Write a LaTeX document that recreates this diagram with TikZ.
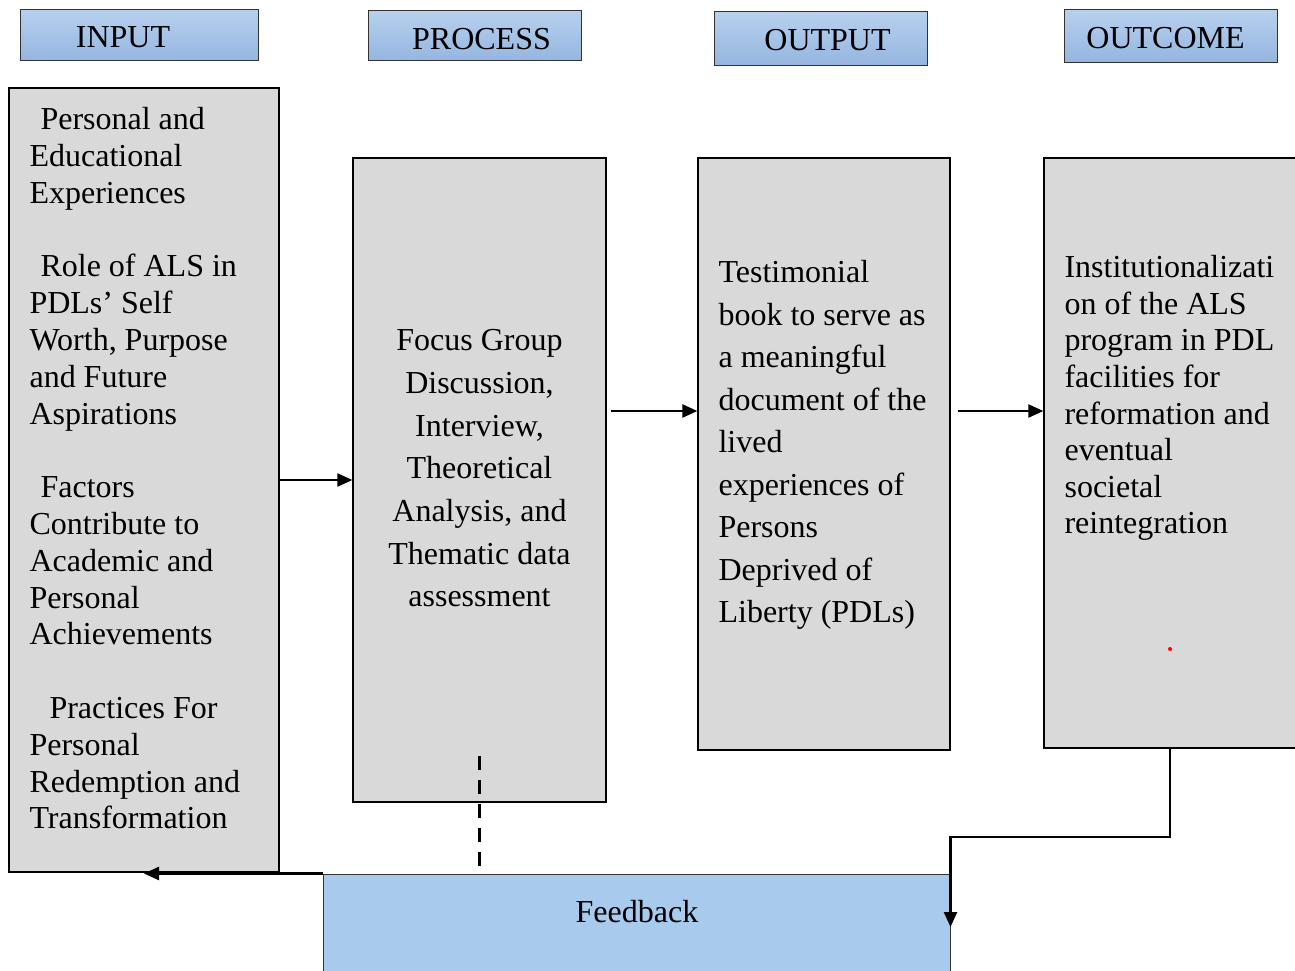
\documentclass[tikz,border=0pt]{standalone}
\usepackage{fontspec}
\setmainfont{Liberation Serif}
\usetikzlibrary{arrows.meta}
\definecolor{headtop}{HTML}{B8D0EE}
\definecolor{headbot}{HTML}{95B6E0}
\definecolor{boxgrey}{HTML}{D9D9D9}
\definecolor{fbblue}{HTML}{A8CAEC}
\tikzset{headbox/.style={draw=black!80,line width=1pt,top color=headtop,bottom color=headbot,inner sep=0pt}}
\tikzset{headtext/.style={font=\fontsize{32}{36}\selectfont,inner sep=0pt}}
\tikzset{greybox/.style={draw=black,line width=1.3pt,fill=boxgrey,inner sep=0pt}}
\tikzset{bodytext/.style={inner sep=0pt}}
\tikzset{arrow/.style={line width=2.4pt,-{Triangle[length=15pt,width=13pt]}}}
\tikzset{dashline/.style={line width=3.5pt,dash pattern=on 14pt off 10pt}}

\begin{document}
\begin{tikzpicture}[x=1pt,y=-1pt]
\useasboundingbox (0,0) rectangle (1295,970);

\node[headbox,minimum width=238,minimum height=51] (inhead) at (139,34.5) {};
\node[headbox,minimum width=213,minimum height=50] (prochead) at (474.5,35) {};
\node[headbox,minimum width=213,minimum height=54] (outhead) at (820.5,38) {};
\node[headbox,minimum width=213,minimum height=53] (outchead) at (1170.5,35.5) {};
\node[headtext] (intxt) at ([xshift=-16pt,yshift=-3pt]inhead) {INPUT};
\node[headtext] (proctxt) at ([xshift=7pt,yshift=-4pt]prochead) {PROCESS};
\node[headtext] (outtxt) at ([xshift=7pt,yshift=-2pt]outhead) {OUTPUT};
\node[headtext] (outctxt) at ([xshift=-5pt,yshift=-3pt]outchead) {OUTCOME};

\node[greybox,minimum width=270,minimum height=784] (input) at (144,480) {};
\node[greybox,minimum width=253,minimum height=644] (process) at (479.5,480) {};
\node[greybox,minimum width=252,minimum height=592] (output) at (824,454) {};
\node[greybox,minimum width=266,minimum height=590] (outcome) at (1177,453) {};
\node[draw=black!80,line width=1pt,fill=fbblue,minimum width=627,minimum height=106,inner sep=0pt] (feedback) at (636.5,927) {};
\node[bodytext,font=\fontsize{32}{36}\selectfont] (fbtext) at (637,912) {Feedback};

\node[bodytext,anchor=north west,align=left,font=\fontsize{32}{36.8}\selectfont] (intext)
  at ([xshift=21pt,yshift=-20pt]input.north west)
  {\hspace*{11pt}Personal and\\ Educational\\ Experiences\\[36.8pt]
   \hspace*{11pt}Role of ALS in\\ PDLs’ Self\\ Worth, Purpose\\ and Future\\ Aspirations\\[36.8pt]
   \hspace*{11pt}Factors\\ Contribute to\\ Academic and\\ Personal\\ Achievements\\[36.8pt]
   \hspace*{20pt}Practices For\\ Personal\\ Redemption and\\ Transformation};

\node[bodytext,anchor=north,align=center,font=\fontsize{32}{42.7}\selectfont] (proctext)
  at ([yshift=-172pt]process.north)
  {Focus Group\\ Discussion,\\ Interview,\\ Theoretical\\ Analysis, and\\ Thematic data\\ assessment};

\node[bodytext,anchor=north west,align=left,font=\fontsize{32}{42.5}\selectfont] (outtext)
  at ([xshift=21pt,yshift=-103pt]output.north west)
  {Testimonial\\ book to serve as\\ a meaningful\\ document of the\\ lived\\ experiences of\\ Persons\\ Deprived of\\ Liberty (PDLs)};

\node[bodytext,anchor=north west,align=left,font=\fontsize{32}{36.6}\selectfont] (outctext)
  at ([xshift=21pt,yshift=-98pt]outcome.north west)
  {Institutionalizati\\ on of the ALS\\ program in PDL\\ facilities for\\ reformation and\\ eventual\\ societal\\ reintegration};

\fill[red] (1170,649) circle (2pt);

% connectors
\coordinate (p1) at ([xshift=4pt,yshift=69pt]process.east);
\coordinate (fb1) at ([xshift=-7pt]outcome.south);
\coordinate (fbturn) at (0,837);
\draw[arrow] (input) -- (process);
\draw[arrow] (p1) -- (p1 -| output.west);
\draw[arrow] ([xshift=7pt]p1 -| output.east) -- (p1 -| outcome.west);
\draw[arrow] (fb1) |- (fbturn -| feedback.east) -- (feedback.east);
\draw[arrow] (feedback.north west) -- (feedback.north west -| input.south);
\draw[dashline] ([yshift=47pt]process.south) -- (process.south |- feedback.north);

\end{tikzpicture}
\end{document}
